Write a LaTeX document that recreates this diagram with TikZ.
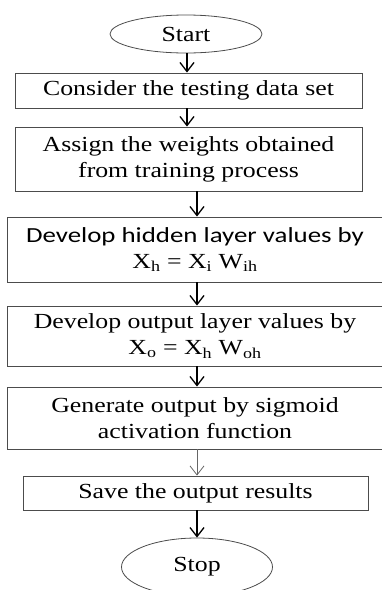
\documentclass[tikz,border=0pt]{standalone}
\usepackage{fontspec}
\setmainfont{Liberation Serif}[FakeStretch=1.2]
\newfontfamily\calib{Carlito}[FakeStretch=1.25]
\usetikzlibrary{arrows.meta,shapes.geometric}
\begin{document}
\begin{tikzpicture}[x=1pt,y=-1pt,
  box/.style={draw=black!70, line width=0.9pt, rectangle, inner sep=0pt, align=center,
    font=\fontsize{21.5}{26}\selectfont},
  term/.style={draw=black!70, line width=0.8pt, ellipse, inner sep=0pt,
    font=\fontsize{21.5}{26}\selectfont},
  arr/.style={-{Straight Barb[length=9pt,width=14pt]}, line width=1.3pt, black},
  thinarr/.style={-{Straight Barb[length=9pt,width=14pt]}, line width=0.8pt, black!60},
]
\useasboundingbox (0,0) rectangle (382,590);
\node[term, minimum width=152pt, minimum height=38pt] (start) at (186,34) {Start};
\node[box, minimum width=347pt, minimum height=35pt] (b1) at (188.5,90.5) {Consider the testing data set};
\node[box, minimum width=347pt, minimum height=64pt] (b2) at (188.5,159) {Assign the weights obtained\\from training process};
\node[box, minimum width=376pt, minimum height=65pt] (b3) at (195,249.5) {{\calib Develop hidden layer values by}\\X\textsubscript{h} = X\textsubscript{i} W\textsubscript{ih}};
\node[box, minimum width=376pt, minimum height=60pt] (b4) at (195,336) {Develop output layer values by\\X\textsubscript{o} = X\textsubscript{h} W\textsubscript{oh}};
\node[box, minimum width=376pt, minimum height=62pt] (b5) at (195,418) {Generate output by sigmoid\\activation function};
\node[box, minimum width=345pt, minimum height=34pt] (b6) at (195.5,493) {Save the output results};
\node[term, minimum width=151pt, minimum height=58pt] (stop) at (197,567) {Stop};
\coordinate (ax) at (187,0);
\draw[arr] (start.south -| ax) -- (b1.north -| ax);
\draw[arr] (b1.south -| ax) -- (b2.north -| ax);
\draw[arr] (b2.south -| stop) -- (b3.north -| stop);
\draw[arr] (b3.south -| stop) -- (b4.north -| stop);
\draw[arr] (b4.south -| stop) -- (b5.north -| stop);
\draw[thinarr] (b5.south -| stop) -- (b6.north -| stop);
\draw[arr] (b6.south -| stop) -- (stop.north);
\end{tikzpicture}
\end{document}
